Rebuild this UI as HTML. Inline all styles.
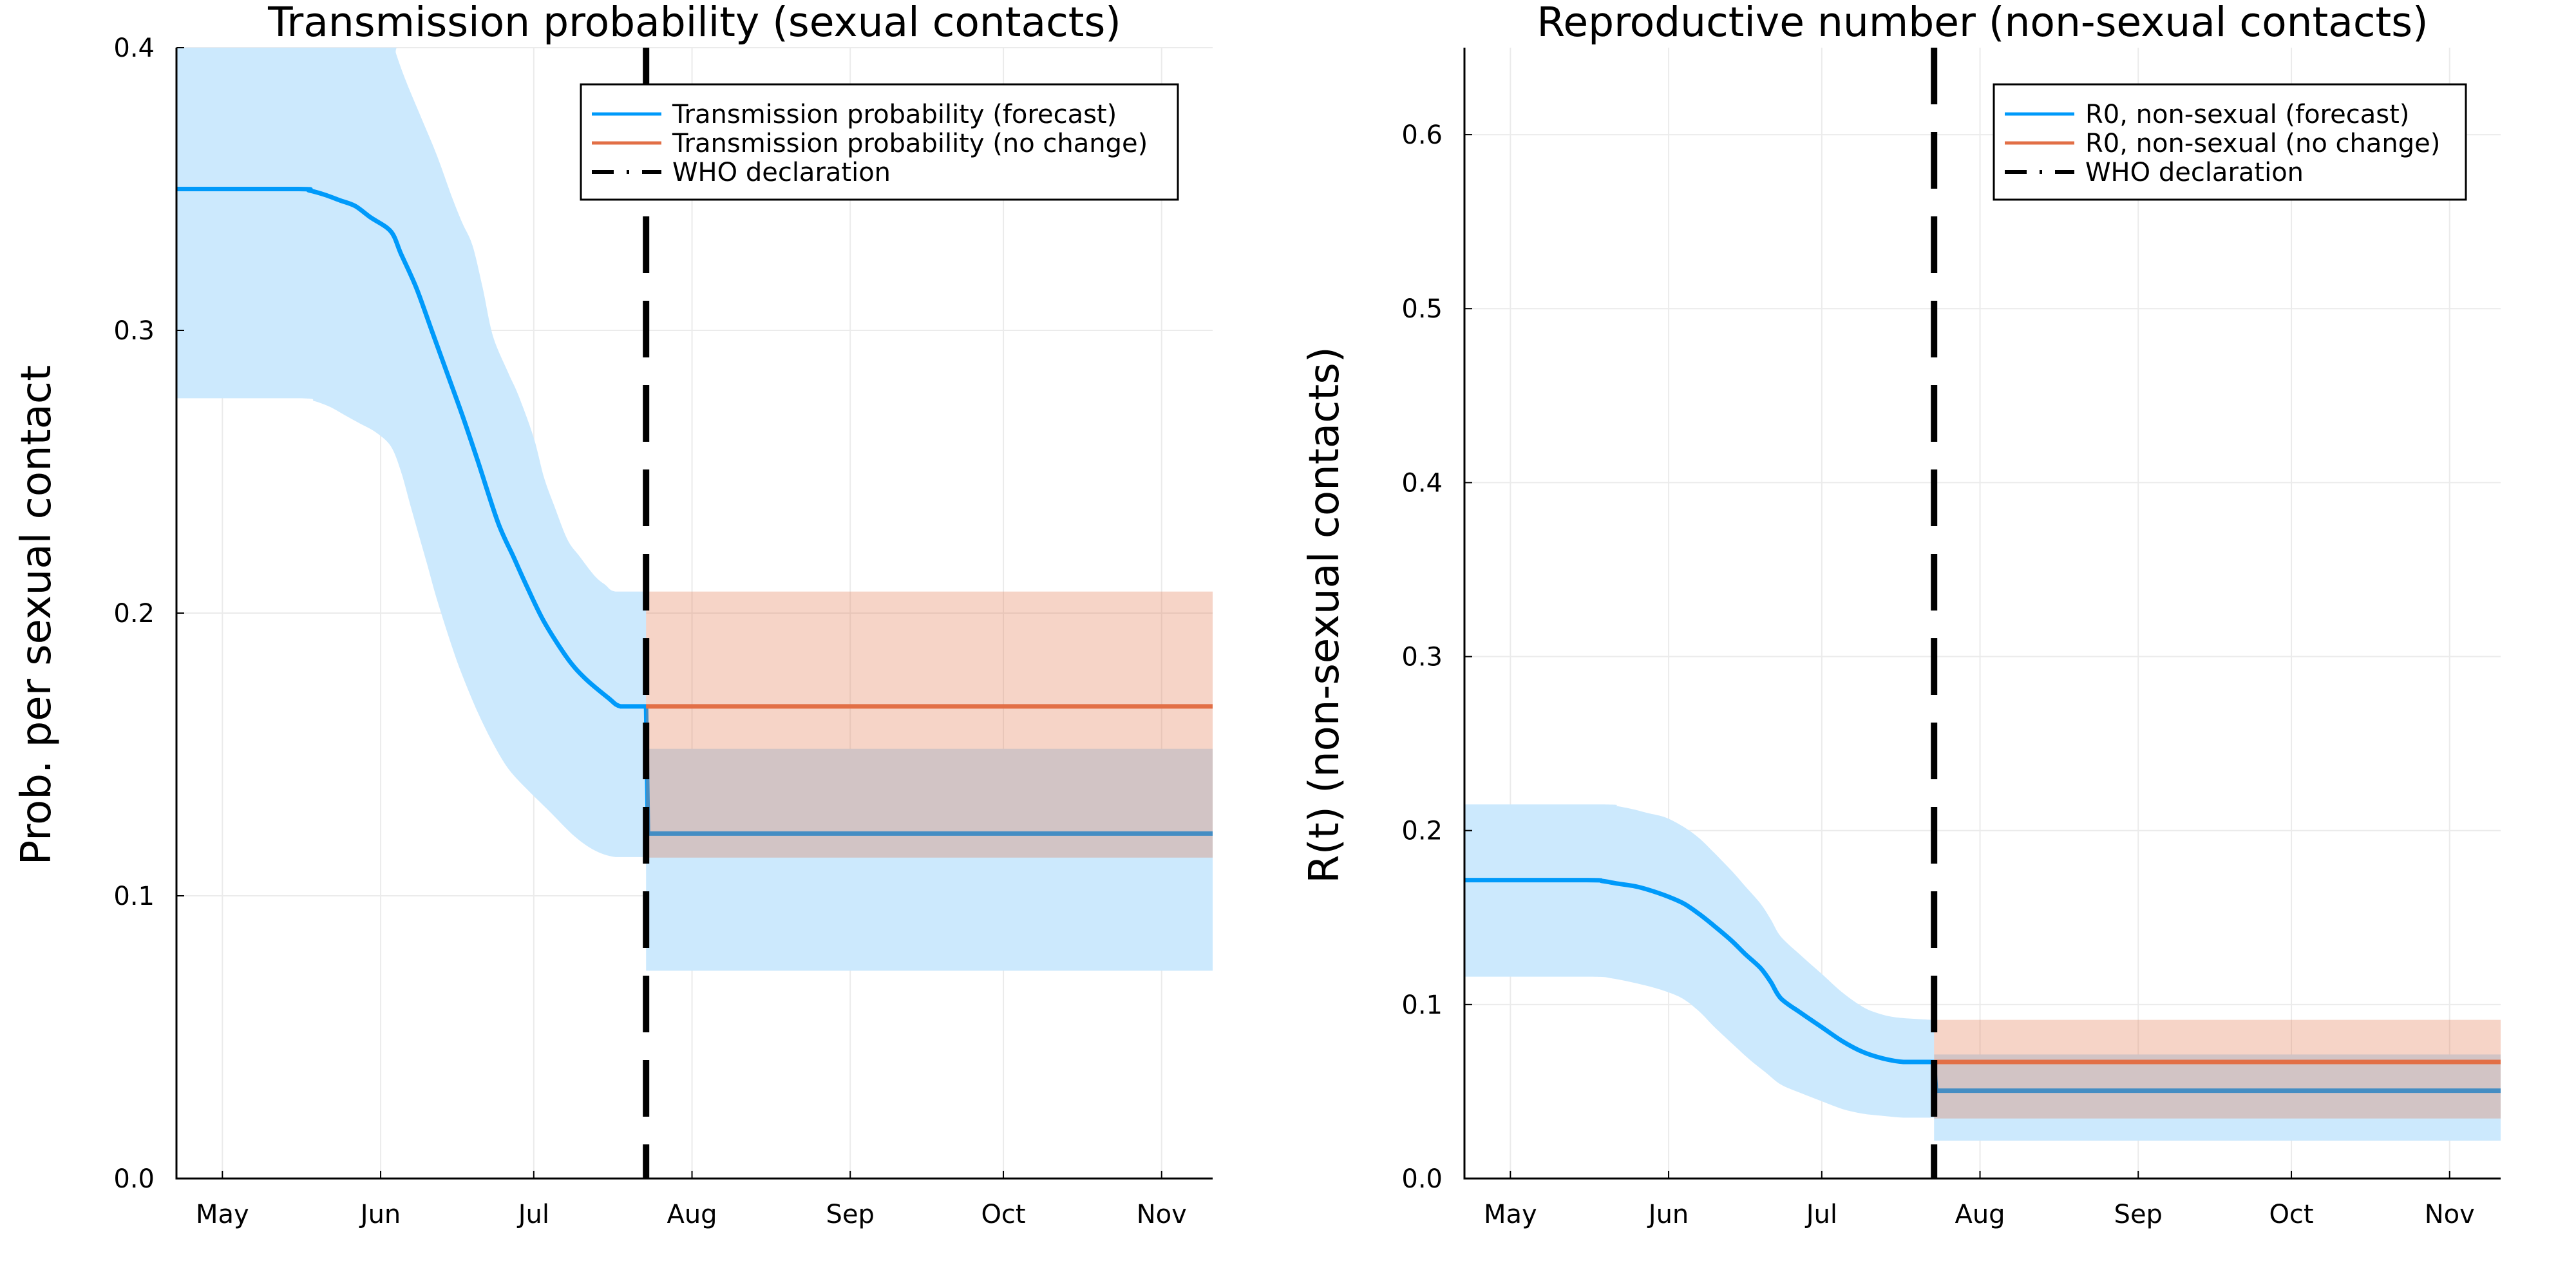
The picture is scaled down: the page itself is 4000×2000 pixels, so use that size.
<!DOCTYPE html>
<html><head><meta charset="utf-8"><style>
html,body{margin:0;padding:0;background:#fff;}
svg{display:block;font-family:"DejaVu Sans","Liberation Sans",sans-serif;}
</style></head><body>
<svg id="chart" width="4000" height="2000" viewBox="0 0 4000 2000" xmlns="http://www.w3.org/2000/svg">
<rect width="4000" height="2000" fill="#fff"/>
</svg>
<script>
// ---- shared axis data ----
const monthLabels = ["May","Jun","Jul","Aug","Sep","Oct","Nov"];
const monthDays = [0,31,61,92,123,153,184]; // days since May 1
const xDomain = [-9, 194];
const whoDay = 83;

// ---- left panel data (transmission probability) ----
const L_yTicks = [0.0,0.1,0.2,0.3,0.4];
const L_meanDays = [-9,15,17,20,23,26,29,33,35,38,41,44,47,50,54,57,59.5,63,67.6,71,75.6,78,82.6];
const L_meanVals = [0.350,0.350,0.3495,0.348,0.346,0.344,0.340,0.335,0.327,0.315,0.300,0.285,0.270,0.254,0.232,0.220,0.210,0.197,0.184,0.177,0.170,0.167,0.167];
const L_lowDays = [-9,15,18,21,24,27,30,33,35,37,40,42,45,47,50,53,56,59.5,64,69,73,77,82.6];
const L_lowVals = [0.276,0.276,0.275,0.273,0.270,0.267,0.264,0.259,0.250,0.237,0.218,0.205,0.188,0.178,0.165,0.154,0.145,0.138,0.130,0.121,0.116,0.1137,0.1137];
const L_upDays = [-9,32,34,36,39,42,45,47,49,51,53,56,58,61,63,65,67.6,70,73,75,77,82.6];
const L_upVals = [0.42,0.41,0.398,0.388,0.375,0.362,0.347,0.338,0.330,0.315,0.298,0.285,0.277,0.262,0.248,0.238,0.226,0.220,0.213,0.210,0.2076,0.2076];
const L_after = {forecast:0.122, forecastLow:0.0735, forecastUp:0.152, noChange:0.167, noChangeLow:0.1135, noChangeUp:0.2076};

// ---- right panel data (R(t) non-sexual) ----
const R_yTicks = [0.0,0.1,0.2,0.3,0.4,0.5,0.6];
const R_meanDays = [-9,15,18,21,24.4,27,30.5,34,37,40,43.4,46,49,51,53,57,61,65,69,73,77,82.6];
const R_meanVals = [0.1715,0.1715,0.171,0.1695,0.168,0.166,0.1625,0.158,0.152,0.145,0.1365,0.129,0.121,0.113,0.1035,0.095,0.087,0.079,0.0728,0.069,0.067,0.067];
const R_lowDays = [-9,15,20,25.7,30,33.7,37,40,44,47,50,53,57,61,65,69,73,77,82.6];
const R_lowVals = [0.116,0.116,0.115,0.1115,0.108,0.1035,0.096,0.087,0.076,0.068,0.061,0.054,0.049,0.0444,0.040,0.0373,0.036,0.035,0.035];
const R_upDays = [-9,18,21,24.4,27,30.5,34,37,40,43.4,46,49,51,53,57,61,65,69,72,75.6,82.6];
const R_upVals = [0.215,0.215,0.214,0.212,0.210,0.2074,0.202,0.1956,0.187,0.1767,0.168,0.158,0.149,0.139,0.128,0.1176,0.107,0.0987,0.095,0.0926,0.0912];
const R_after = {forecast:0.0505, forecastLow:0.0217, forecastUp:0.0713, noChange:0.067, noChangeLow:0.0345, noChangeUp:0.0912};

const NS="http://www.w3.org/2000/svg";
const svg=document.getElementById('chart');
function el(tag,attrs,parent){const e=document.createElementNS(NS,tag);for(const k in attrs)e.setAttribute(k,attrs[k]);(parent||svg).appendChild(e);return e;}

function smooth(pts){
  let s=pts[0][0]+','+pts[0][1];
  for(let i=0;i<pts.length-1;i++){
    const p0=pts[Math.max(0,i-1)],p1=pts[i],p2=pts[i+1],p3=pts[Math.min(pts.length-1,i+2)];
    const t=0.16;
    let c1x=p1[0]+(p2[0]-p0[0])*t, c1y=p1[1]+(p2[1]-p0[1])*t;
    let c2x=p2[0]-(p3[0]-p1[0])*t, c2y=p2[1]-(p3[1]-p1[1])*t;
    const lo=Math.min(p1[1],p2[1]),hi=Math.max(p1[1],p2[1]);
    c1y=Math.min(hi,Math.max(lo,c1y));c2y=Math.min(hi,Math.max(lo,c2y));
    s+=' C'+c1x+','+c1y+' '+c2x+','+c2y+' '+p2[0]+','+p2[1];
  }
  return s;
}

function panel(cfg){
  const g=el('g',{});
  
  
  const X0=cfg.x0,X1=cfg.x1,Y0=74,Y1=1830;
  const sx=d=>X0+(d-xDomain[0])/(xDomain[1]-xDomain[0])*(X1-X0);
  const sy=v=>Y1-(v-cfg.yMin)/(cfg.yMax-cfg.yMin)*(Y1-Y0);
  const clip='clip-'+cfg.name;
  const cp=el('clipPath',{id:clip},g);el('rect',{x:X0,y:Y0,width:X1-X0,height:Y1-Y0},cp);
  monthDays.forEach((d,i)=>{const l=el('line',{x1:sx(d),x2:sx(d),y1:Y0,y2:Y1,stroke:'#ebebeb','stroke-width':2},g);
    });
  cfg.yTicks.forEach(v=>{const l=el('line',{x1:X0,x2:X1,y1:sy(v),y2:sy(v),stroke:'#ebebeb','stroke-width':2},g);
    });
  const pg=el('g',{'clip-path':'url(#'+clip+')'},g);
  const a=cfg.after, xe=xDomain[1], xw=sx(whoDay);
  const upPts=cfg.upDays.map((t,i)=>[sx(t),sy(cfg.upVals[i])]);
  const lowPts=cfg.lowDays.map((t,i)=>[sx(t),sy(cfg.lowVals[i])]).reverse();
  let d='M'+smooth(upPts);
  d+=' L'+xw+','+sy(cfg.upVals[cfg.upVals.length-1]);
  d+=' L'+xw+','+sy(cfg.lowVals[cfg.lowVals.length-1]);
  d+=' L'+smooth(lowPts);
  const b1=el('path',{d:d+'Z',fill:'#cce9fd'},pg);
  
  const b2=el('rect',{x:xw,y:sy(a.forecastUp),width:sx(xe)-xw,height:sy(a.forecastLow)-sy(a.forecastUp),fill:'#cce9fd'},pg);
  
  const meanPts=cfg.meanDays.map((t,i)=>[sx(t),sy(cfg.meanVals[i])]);
  let m='M'+smooth(meanPts);
  m+=' L'+xw+','+sy(cfg.meanVals[cfg.meanVals.length-1])+' L'+(xw+3)+','+sy(a.forecast)+' L'+sx(xe)+','+sy(a.forecast);
  const ml=el('path',{d:m,fill:'none',stroke:'#009afa','stroke-width':7,'stroke-linejoin':'round'},pg);
  
  const ob=el('rect',{x:xw,y:sy(a.noChangeUp),width:sx(xe)-xw,height:sy(a.noChangeLow)-sy(a.noChangeUp),fill:'#e26f46','fill-opacity':0.3},pg);
  
  const ol=el('line',{x1:xw,x2:sx(xe),y1:sy(a.noChange),y2:sy(a.noChange),stroke:'#e26f46','stroke-width':7},pg);
  
  const wl=el('line',{x1:xw,x2:xw,y1:Y0,y2:Y1,stroke:'#000','stroke-width':10,'stroke-dasharray':'88 43'},pg);
  
  const ax=el('path',{d:`M${X0},${Y0} L${X0},${Y1} L${X1},${Y1}`,fill:'none',stroke:'#000','stroke-width':3},g);
  
  monthDays.forEach((dd,i)=>{
    el('line',{x1:sx(dd),x2:sx(dd),y1:Y1,y2:Y1-12,stroke:'#000','stroke-width':2},g);
    const t=el('text',{x:sx(dd),y:1899,'font-size':40,'text-anchor':'middle',fill:'#000'},g);
    t.textContent=monthLabels[i];
    
  });
  cfg.yTicks.forEach(v=>{
    el('line',{x1:X0,x2:X0+12,y1:sy(v),y2:sy(v),stroke:'#000','stroke-width':2},g);
    const t=el('text',{x:X0-34,y:sy(v)+14,'font-size':40,'text-anchor':'end',fill:'#000'},g);
    t.textContent=v.toFixed(1);
    
  });
  const tt=el('text',{x:(X0+X1)/2,y:56,'font-size':63,'text-anchor':'middle',fill:'#000'},g);
  tt.textContent=cfg.title;
  const yl=el('text',{x:0,y:0,'font-size':64,'text-anchor':'middle',fill:'#000',transform:`translate(${cfg.x0-196},${cfg.ylabY}) rotate(-90)`},g);
  yl.textContent=cfg.ylabel;
  const lg=el('g',{},g);
  
  el('rect',{x:cfg.lx,y:131,width:cfg.lw,height:179,fill:'#fff',stroke:'#000','stroke-width':3},lg);
  const items=[[cfg.legend[0],'#009afa',null],[cfg.legend[1],'#e26f46',null],[cfg.legend[2],'#000','34 20 4 20']];
  items.forEach((it,i)=>{
    const y=177+i*45;
    const ln=el('line',{x1:cfg.lx+17,x2:cfg.lx+125,y1:y,y2:y,stroke:it[1],'stroke-width':i==2?6:5},lg);
    if(it[2])ln.setAttribute('stroke-dasharray',it[2]);
    const t=el('text',{x:cfg.lx+142,y:y+14,'font-size':40,fill:'#000'},lg);
    t.textContent=it[0];
  });
}
panel({name:'left-panel',x0:274,x1:1883,yMin:0,yMax:0.4,yTicks:L_yTicks,
  meanDays:L_meanDays,meanVals:L_meanVals,lowDays:L_lowDays,lowVals:L_lowVals,upDays:L_upDays,upVals:L_upVals,after:L_after,
  title:'Transmission probability (sexual contacts)',ylabel:'Prob. per sexual contact',ylabY:955,
  lx:902,lw:927,legend:['Transmission probability (forecast)','Transmission probability (no change)','WHO declaration']});
panel({name:'right-panel',x0:2274,x1:3883,yMin:0,yMax:0.65,yTicks:R_yTicks,
  meanDays:R_meanDays,meanVals:R_meanVals,lowDays:R_lowDays,lowVals:R_lowVals,upDays:R_upDays,upVals:R_upVals,after:R_after,
  title:'Reproductive number (non-sexual contacts)',ylabel:'R(t) (non-sexual contacts)',ylabY:955,
  lx:3096,lw:733,legend:['R0, non-sexual (forecast)','R0, non-sexual (no change)','WHO declaration']});
</script>
</body></html>
